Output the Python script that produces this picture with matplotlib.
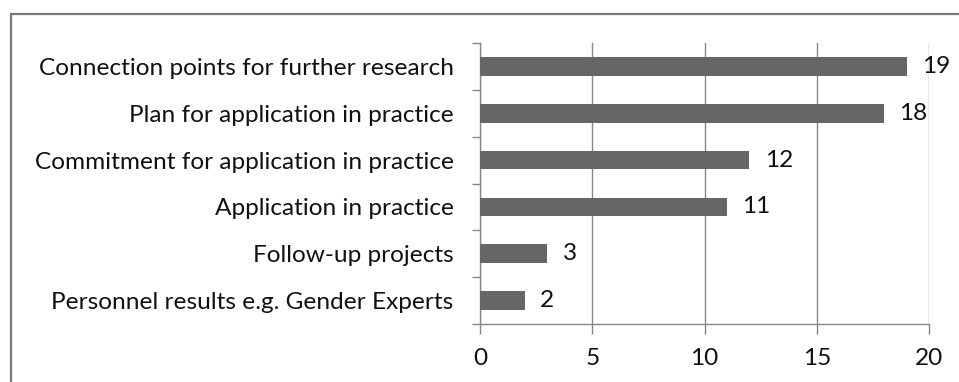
"""
Horizontal bar chart: results of the projects
"""
import numpy as np
import matplotlib
matplotlib.use('Agg')
import matplotlib.pyplot as plt
import matplotlib.patches as patches

categories = ['Connection points for further research',
              'Plan for application in practice',
              'Commitment for application in practice',
              'Application in practice',
              'Follow-up projects',
              'Personnel results e.g. Gender Experts']
counts = [19, 18, 12, 11, 3, 2]
xticks = [0, 5, 10, 15, 20]

plt.rcParams['font.family'] = ['Lato', 'DejaVu Sans']
fs = 17.6
grey = '#878787'
txt = '#111111'

fig = plt.figure(figsize=(9.59, 3.82), dpi=100)
ax = fig.add_axes([480/959, 1-324/382, 449/959, 281/382])

# outer frame (only top and left visible, chart is cropped)
frame = patches.Rectangle((11/959, -0.2), 1.2, 1 - 14/382 + 0.2,
                          transform=fig.transFigure, fill=False,
                          edgecolor='#777777', lw=1.6, clip_on=False)
fig.patches.append(frame)

y = np.arange(len(categories))[::-1]
ax.barh(y, counts, height=0.4, color='#666666', zorder=3)
for yi, c in zip(y, counts):
    ax.annotate(str(c), (c, yi), xytext=(11, 0), textcoords='offset points',
                va='center', ha='left', fontsize=fs, color=txt)

ax.set_xlim(0, 20)
ax.set_ylim(-0.5, len(categories) - 0.5)
ax.set_xticks(xticks)
ax.set_yticks(y)
ax.set_yticklabels(categories)
ax.set_yticks(np.arange(len(categories) + 1) - 0.5, minor=True)
ax.tick_params(axis='y', which='major', length=0, pad=19, labelsize=fs,
               labelcolor=txt)
ax.tick_params(axis='y', which='minor', length=6, width=1, color=grey)
ax.tick_params(axis='x', length=7, width=1, color=grey, pad=10,
               labelsize=fs, labelcolor=txt)
ax.grid(axis='x', color=grey, lw=1, zorder=0)
for s in ['top', 'right']:
    ax.spines[s].set_visible(False)
for s in ['left', 'bottom']:
    ax.spines[s].set_color(grey)
    ax.spines[s].set_linewidth(1)

fig.savefig('out.png', dpi=100)
